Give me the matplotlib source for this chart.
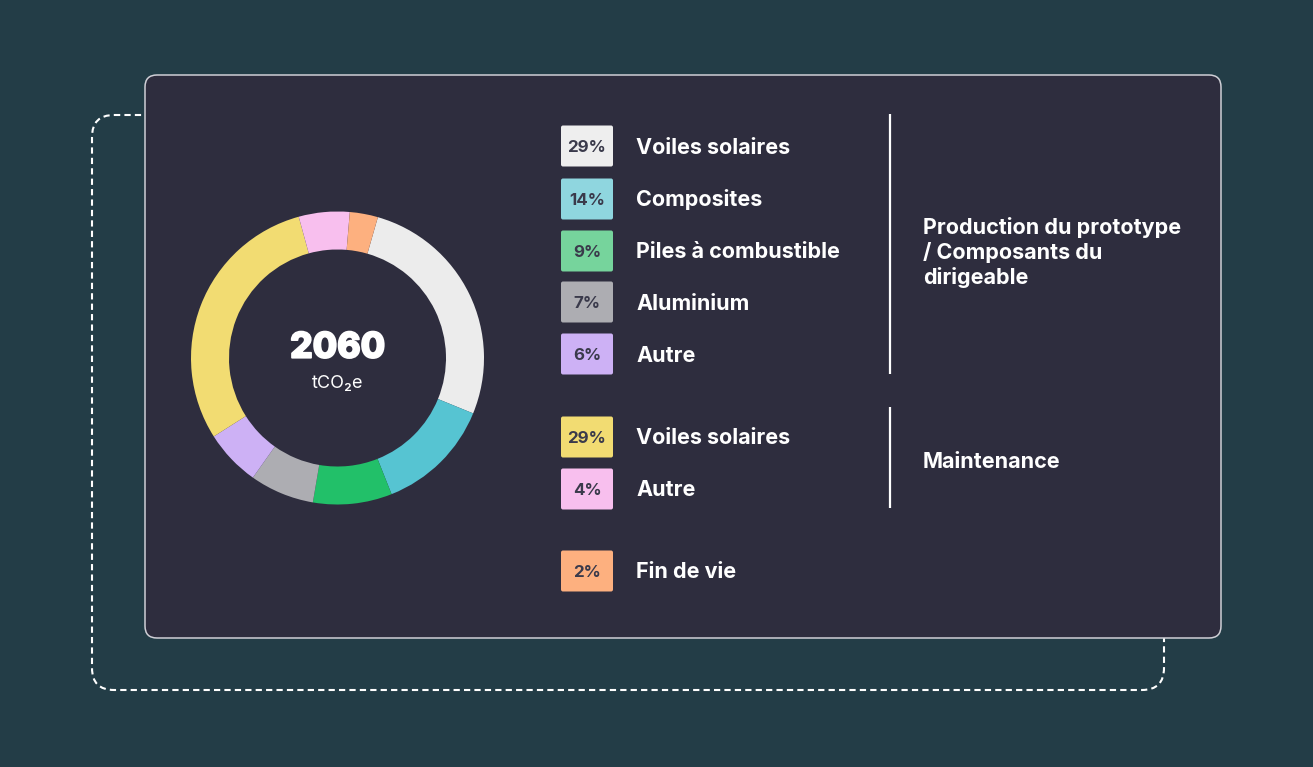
import matplotlib
matplotlib.use("Agg")
import matplotlib.pyplot as plt
from matplotlib.patches import FancyBboxPatch
import matplotlib.patheffects as pe

# ---------------- data ----------------
labels = ["Voiles solaires", "Composites", "Piles à combustible", "Aluminium", "Autre",
          "Voiles solaires", "Autre", "Fin de vie"]
pct_labels = ["29%", "14%", "9%", "7%", "6%", "29%", "4%", "2%"]
# arc shares as drawn in the donut
shares = [26.7, 12.8, 8.7, 7.1, 6.2, 29.7, 5.6, 3.1]
ring_colors = ["#ececec", "#56c4d2", "#22c069", "#adadb2", "#cdb1f5",
               "#f2dc72", "#f8bfee", "#fdb07f"]
box_colors = ["#eeeeee", "#8fd6df", "#76d49c", "#adadb2", "#cdb1f5",
              "#f2dc72", "#f8bfee", "#fdb07f"]
group_labels = [["Production du prototype", "/ Composants du", "dirigeable"],
                ["Maintenance"]]
total_value = "2060"
unit = "tCO₂e"

# ---------------- styling ----------------
W, H = 1313, 767
BG = "#233d47"
CARD = "#2e2d3e"
FONT = ["Inter", "DejaVu Sans"]
LFS = 15.5

fig = plt.figure(figsize=(W / 100, H / 100), dpi=100)
fig.patch.set_facecolor(BG)

ax = fig.add_axes([0, 0, 1, 1])
ax.set_xlim(0, W)
ax.set_ylim(H, 0)
ax.axis("off")

# dashed outline behind the card
dash = FancyBboxPatch((92, 115), 1164 - 92, 690 - 115,
                      boxstyle="round,pad=0,rounding_size=22",
                      fill=False, edgecolor="white", linewidth=1.5,
                      linestyle=(0, (3, 2)), zorder=1)
ax.add_patch(dash)

# card
card = FancyBboxPatch((145, 75), 1221 - 145, 638 - 75,
                      boxstyle="round,pad=0,rounding_size=12",
                      facecolor=CARD, edgecolor="#cfcfd6", linewidth=1.1, zorder=2)
ax.add_patch(card)

# legend boxes and labels
rows_y = [146, 199, 251, 302, 354, 437, 489, 571]
for y, pl, lab, bc in zip(rows_y, pct_labels, labels, box_colors):
    box = FancyBboxPatch((561, y - 20.5), 52, 41,
                         boxstyle="round,pad=0,rounding_size=2",
                         facecolor=bc, edgecolor="none", zorder=3)
    ax.add_patch(box)
    ax.text(587, y + 5.8, pl, ha="center", va="baseline", fontsize=12.2,
            fontweight="bold", color="#3a3a4b", family=FONT, zorder=4)
    ax.text(636, y + 7.5, lab, ha="left", va="baseline", fontsize=LFS,
            fontweight="bold", color="white", family=FONT, zorder=4)

# group separators
ax.plot([890, 890], [114, 374], color="white", lw=1.6, solid_capstyle="butt", zorder=3)
ax.plot([890, 890], [407, 508], color="white", lw=1.6, solid_capstyle="butt", zorder=3)

for i, line in enumerate(group_labels[0]):
    ax.text(923, 234.3 + 25 * i, line, ha="left", va="baseline", fontsize=LFS,
            fontweight="bold", color="white", family=FONT, zorder=4)
ax.text(923, 467.7, group_labels[1][0], ha="left", va="baseline", fontsize=LFS,
        fontweight="bold", color="white", family=FONT, zorder=4)

# center texts
ax.text(337.5, 357.7, total_value, ha="center", va="baseline", fontsize=25.5,
        fontweight="heavy", color="white", family=["Inter", "DejaVu Sans"], zorder=5,
        path_effects=[pe.withStroke(linewidth=1.3, foreground="white")])
ax.text(337.5, 388, unit, ha="center", va="baseline", fontsize=13,
        color="white", family=FONT, zorder=5)

# donut
cx, cy, r = 337.5, 358, 146.5
pax = fig.add_axes([(cx - r) / W, (H - cy - r) / H, 2 * r / W, 2 * r / H])
pax.pie(shares, colors=ring_colors, startangle=74, counterclock=False,
        radius=1, wedgeprops=dict(width=38 / r, edgecolor="none", linewidth=0))
pax.set_xlim(-1, 1)
pax.set_ylim(-1, 1)
pax.set_aspect("equal")
pax.axis("off")
pax.set_zorder(ax.get_zorder() + 1)
pax.patch.set_alpha(0)

fig.savefig("out.png", dpi=100, facecolor=BG)
